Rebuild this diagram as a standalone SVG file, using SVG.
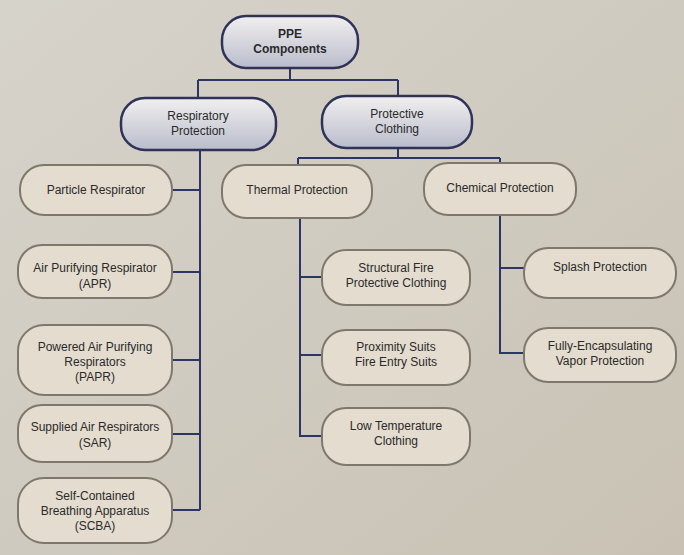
<svg xmlns="http://www.w3.org/2000/svg" width="684" height="555" viewBox="0 0 684 555">
<defs>
<style>
text{font-family:"Liberation Sans",Arial,sans-serif;font-size:12px;fill:#2a2a2a;text-anchor:middle}
.n{fill:#e4dccf;stroke:#7d776c;stroke-width:2}
.h{fill:url(#g);stroke:#2f3358;stroke-width:2.5}
.c{fill:none;stroke:#2c3564;stroke-width:2}
</style>
<linearGradient id="g" x1="0" y1="0" x2="0" y2="1"><stop offset="0" stop-color="#f1efef"/><stop offset="1" stop-color="#b9bccb"/></linearGradient>
<linearGradient id="bg" x1="0" y1="0" x2="1" y2="1"><stop offset="0" stop-color="#d6d3cb"/><stop offset="1" stop-color="#c9c2b4"/></linearGradient>
</defs>
<rect width="684" height="555" fill="url(#bg)"/>
<g id="connectors">
<path class="c" d="M290 68V80M198 80H398M198 80V98M398 80V96"/>
<path class="c" d="M200 150V510M172 190H200M172 272H200M172 360H200M172 434H200M172 510H200"/>
<path class="c" d="M398 148V158M298 158H500M298 158V165M500 158V163"/>
<path class="c" d="M300 218V436H322M300 277H322M300 355H322"/>
<path class="c" d="M500 215V353H524M500 268H524"/>
</g>
<g id="ppe"><rect class="h" x="222" y="16" width="136" height="52" rx="24"/><text x="290" y="38" font-weight="bold">PPE</text><text x="290" y="53" font-weight="bold">Components</text></g>
<g id="resp"><rect class="h" x="121" y="98" width="155" height="52" rx="24"/><text x="198" y="120">Respiratory</text><text x="198" y="135">Protection</text></g>
<g id="cloth"><rect class="h" x="322" y="96" width="150" height="52" rx="24"/><text x="397" y="118">Protective</text><text x="397" y="133">Clothing</text></g>
<g id="particle"><rect class="n" x="20" y="165" width="152" height="50" rx="24"/><text x="96" y="194">Particle Respirator</text></g>
<g id="apr"><rect class="n" x="18" y="245" width="154" height="53" rx="24"/><text x="95" y="272">Air Purifying Respirator</text><text x="95" y="288">(APR)</text></g>
<g id="papr"><rect class="n" x="18" y="325" width="154" height="70" rx="26"/><text x="95" y="351">Powered Air Purifying</text><text x="95" y="366">Respirators</text><text x="95" y="381">(PAPR)</text></g>
<g id="sar"><rect class="n" x="18" y="405" width="154" height="57" rx="24"/><text x="95" y="431">Supplied Air Respirators</text><text x="95" y="447">(SAR)</text></g>
<g id="scba"><rect class="n" x="18" y="478" width="154" height="65" rx="26"/><text x="95" y="500">Self-Contained</text><text x="95" y="515">Breathing Apparatus</text><text x="95" y="530">(SCBA)</text></g>
<g id="thermal"><rect class="n" x="222" y="165" width="150" height="53" rx="24"/><text x="297" y="194">Thermal Protection</text></g>
<g id="chemical"><rect class="n" x="424" y="163" width="152" height="52" rx="24"/><text x="500" y="192">Chemical Protection</text></g>
<g id="structural"><rect class="n" x="322" y="250" width="148" height="55" rx="24"/><text x="396" y="272">Structural Fire</text><text x="396" y="287">Protective Clothing</text></g>
<g id="proximity"><rect class="n" x="322" y="330" width="148" height="55" rx="24"/><text x="396" y="351">Proximity Suits</text><text x="396" y="366">Fire Entry Suits</text></g>
<g id="lowtemp"><rect class="n" x="322" y="408" width="148" height="57" rx="24"/><text x="396" y="430">Low Temperature</text><text x="396" y="445">Clothing</text></g>
<g id="splash"><rect class="n" x="524" y="248" width="152" height="50" rx="24"/><text x="600" y="271">Splash Protection</text></g>
<g id="fully"><rect class="n" x="524" y="328" width="152" height="54" rx="24"/><text x="600" y="350">Fully-Encapsulating</text><text x="600" y="365">Vapor Protection</text></g>
</svg>
